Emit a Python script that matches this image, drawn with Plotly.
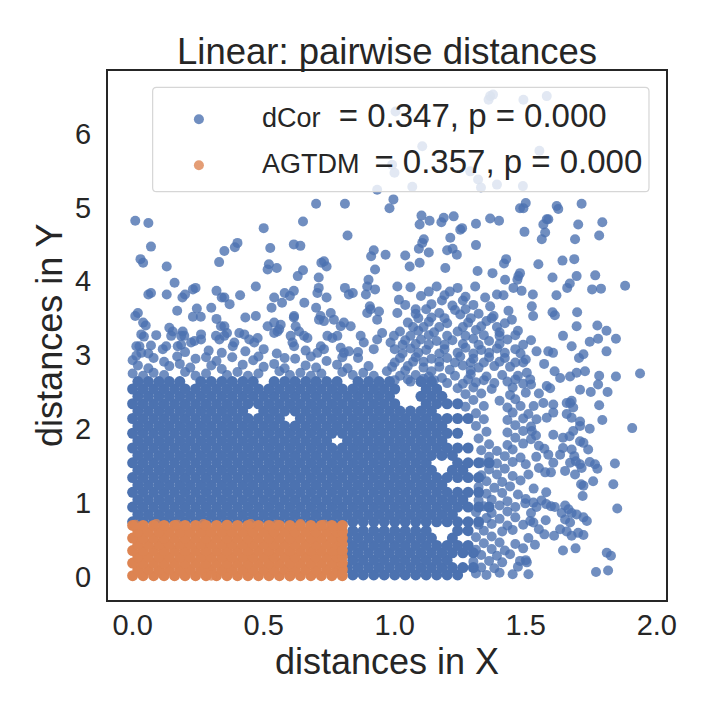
import plotly.graph_objects as go

# ---- data ----------------------------------------------------------------

# dense blue core: one y level per row, x positions along that row
blue_core_levels = [0.02, 0.12, 0.22, 0.32, 0.42, 0.52, 0.62,
                    0.74, 0.84, 0.94, 1.04, 1.14, 1.24, 1.34, 1.44, 1.54,
                    1.64, 1.74, 1.84, 1.94, 2.04, 2.14, 2.24, 2.34, 2.44,
                    2.54, 2.64]
blue_core_rows = [
    [0.84, 0.88, 0.92, 0.96, 1.00, 1.04, 1.08, 1.12, 1.16, 1.20, 1.24],
    [0.82, 0.86, 0.90, 0.94, 0.98, 1.02, 1.06, 1.10, 1.14, 1.18, 1.22, 1.26, 1.30],
    [0.84, 0.88, 0.92, 0.96, 1.00, 1.04, 1.08, 1.12, 1.16, 1.20],
    [0.82, 0.86, 0.90, 0.94, 0.98, 1.02, 1.06, 1.10, 1.14, 1.18, 1.22, 1.26, 1.30],
    [0.84, 0.88, 0.92, 0.96, 1.00, 1.04, 1.08, 1.12, 1.16, 1.20, 1.24, 1.28],
    [0.82, 0.86, 0.90, 0.94, 0.98, 1.02, 1.06, 1.10, 1.14, 1.22],
    [0.84, 0.88, 0.92, 0.96, 1.00, 1.04, 1.08, 1.12, 1.24, 1.28],
    [0.00, 0.04, 0.08, 0.12, 0.16, 0.20, 0.24, 0.28, 0.32, 0.36, 0.40, 0.44, 0.48, 0.52, 0.56, 0.60, 0.64,
     0.68, 0.72, 0.76, 0.80, 0.84, 0.88, 0.92, 0.96, 1.00, 1.04, 1.08, 1.12, 1.16, 1.20, 1.24, 1.28, 1.32],
    [0.02, 0.06, 0.10, 0.14, 0.18, 0.22, 0.26, 0.30, 0.34, 0.38, 0.42, 0.46, 0.50, 0.54, 0.58, 0.62, 0.66,
     0.70, 0.74, 0.78, 0.82, 0.86, 0.90, 0.94, 0.98, 1.02, 1.06, 1.10, 1.14, 1.18, 1.22],
    [0.00, 0.04, 0.08, 0.12, 0.16, 0.20, 0.24, 0.28, 0.32, 0.36, 0.40, 0.44, 0.48, 0.52, 0.56, 0.60, 0.64,
     0.68, 0.72, 0.76, 0.80, 0.84, 0.88, 0.92, 0.96, 1.00, 1.04, 1.08, 1.12, 1.16, 1.20, 1.24, 1.28, 1.32, 1.36],
    [0.02, 0.06, 0.10, 0.14, 0.18, 0.22, 0.26, 0.30, 0.34, 0.38, 0.42, 0.46, 0.50, 0.54, 0.58, 0.62, 0.66,
     0.70, 0.74, 0.78, 0.82, 0.86, 0.90, 0.94, 0.98, 1.02, 1.06, 1.10, 1.14, 1.18, 1.22, 1.26],
    [0.00, 0.04, 0.08, 0.12, 0.16, 0.20, 0.24, 0.28, 0.32, 0.36, 0.40, 0.44, 0.48, 0.52, 0.56, 0.60, 0.64,
     0.68, 0.72, 0.76, 0.80, 0.84, 0.88, 0.92, 0.96, 1.00, 1.04, 1.08, 1.12, 1.16, 1.20, 1.24, 1.28, 1.32],
    [0.02, 0.06, 0.10, 0.14, 0.18, 0.22, 0.26, 0.30, 0.34, 0.38, 0.42, 0.46, 0.50, 0.54, 0.58, 0.62, 0.66,
     0.70, 0.74, 0.78, 0.82, 0.86, 0.90, 0.94, 0.98, 1.02, 1.06, 1.10, 1.14, 1.18],
    [0.00, 0.04, 0.08, 0.12, 0.16, 0.20, 0.24, 0.28, 0.32, 0.36, 0.40, 0.44, 0.48, 0.52, 0.56, 0.60, 0.64,
     0.68, 0.72, 0.76, 0.80, 0.84, 0.88, 0.92, 0.96, 1.00, 1.04, 1.08, 1.12, 1.16, 1.20, 1.24, 1.28, 1.32],
    [0.02, 0.06, 0.10, 0.14, 0.18, 0.22, 0.26, 0.30, 0.34, 0.38, 0.42, 0.46, 0.50, 0.54, 0.58, 0.62, 0.66,
     0.70, 0.74, 0.78, 0.82, 0.86, 0.90, 0.94, 0.98, 1.02, 1.06, 1.10, 1.14, 1.22, 1.26],
    [0.00, 0.04, 0.08, 0.12, 0.16, 0.20, 0.24, 0.28, 0.32, 0.36, 0.40, 0.44, 0.48, 0.52, 0.56, 0.60, 0.64,
     0.68, 0.72, 0.76, 0.80, 0.84, 0.88, 0.92, 0.96, 1.00, 1.04, 1.08, 1.12, 1.24, 1.28, 1.32, 1.36],
    [0.02, 0.06, 0.10, 0.14, 0.18, 0.22, 0.26, 0.30, 0.34, 0.38, 0.42, 0.46, 0.50, 0.54, 0.58, 0.62, 0.66,
     0.70, 0.74, 0.78, 0.82, 0.86, 0.90, 0.94, 0.98, 1.02, 1.06, 1.10, 1.14, 1.18, 1.22],
    [0.00, 0.04, 0.08, 0.12, 0.16, 0.20, 0.24, 0.28, 0.32, 0.36, 0.40, 0.44, 0.48, 0.52, 0.56, 0.60, 0.64,
     0.68, 0.72, 0.76, 0.80, 0.84, 0.88, 0.92, 0.96, 1.00, 1.04, 1.08, 1.12, 1.16, 1.20, 1.24, 1.28],
    [0.02, 0.06, 0.10, 0.14, 0.18, 0.22, 0.26, 0.30, 0.34, 0.38, 0.42, 0.46, 0.50, 0.54, 0.58, 0.62, 0.66,
     0.70, 0.74, 0.82, 0.86, 0.90, 0.94, 0.98, 1.02, 1.06, 1.10, 1.14, 1.18],
    [0.00, 0.04, 0.08, 0.12, 0.16, 0.20, 0.24, 0.28, 0.32, 0.36, 0.40, 0.44, 0.48, 0.52, 0.56, 0.60, 0.64,
     0.68, 0.72, 0.76, 0.80, 0.84, 0.88, 0.92, 0.96, 1.00, 1.04, 1.08, 1.12, 1.16, 1.20, 1.24],
    [0.02, 0.06, 0.10, 0.14, 0.18, 0.22, 0.26, 0.30, 0.34, 0.38, 0.42, 0.46, 0.50, 0.54, 0.58, 0.62, 0.66,
     0.70, 0.74, 0.78, 0.82, 0.86, 0.90, 0.94, 0.98, 1.02, 1.06, 1.10, 1.14, 1.18],
    [0.00, 0.04, 0.08, 0.12, 0.16, 0.20, 0.24, 0.28, 0.32, 0.36, 0.40, 0.44, 0.48, 0.52, 0.56, 0.64,
     0.68, 0.72, 0.76, 0.80, 0.84, 0.88, 0.92, 0.96, 1.00, 1.04, 1.08, 1.12, 1.16, 1.20, 1.24, 1.28],
    [0.02, 0.06, 0.10, 0.14, 0.18, 0.22, 0.26, 0.30, 0.34, 0.38, 0.42, 0.50, 0.54, 0.58, 0.62, 0.66,
     0.70, 0.74, 0.78, 0.82, 0.86, 0.90, 0.94, 0.98, 1.02, 1.06, 1.10, 1.14],
    [0.00, 0.04, 0.08, 0.12, 0.16, 0.20, 0.24, 0.28, 0.32, 0.36, 0.40, 0.44, 0.48, 0.52, 0.56, 0.60, 0.64,
     0.68, 0.72, 0.76, 0.80, 0.84, 0.88, 0.92, 0.96, 1.00, 1.12, 1.16, 1.20, 1.24],
    [0.02, 0.06, 0.10, 0.14, 0.18, 0.22, 0.26, 0.30, 0.34, 0.38, 0.42, 0.46, 0.50, 0.54, 0.58, 0.62, 0.66,
     0.70, 0.74, 0.78, 0.82, 0.86, 0.90, 0.94, 0.98, 1.10, 1.14, 1.18],
    [0.00, 0.04, 0.08, 0.12, 0.16, 0.20, 0.24, 0.28, 0.32, 0.36, 0.40, 0.44, 0.48, 0.52, 0.56, 0.60, 0.64,
     0.68, 0.72, 0.76, 0.80, 0.84, 0.88, 0.92, 0.96, 1.00, 1.12, 1.16],
    [0.02, 0.06, 0.10, 0.14, 0.18, 0.26, 0.30, 0.34, 0.38, 0.42, 0.46, 0.54, 0.58, 0.62, 0.66,
     0.70, 0.74, 0.78, 0.86, 0.90, 0.94, 0.98, 1.10, 1.14],
]

# scattered blue points, (x, y), by region
blue_upper_left = [
    (0.01, 4.82), (0.06, 4.79), (0.07, 4.47), (0.03, 4.30), (0.04, 4.25), (0.13, 4.20), (0.16, 3.98),
    (0.06, 3.82), (0.07, 3.84), (0.13, 3.82), (0.17, 3.60), (0.01, 3.53), (0.02, 3.57), (0.04, 3.44),
    (0.05, 3.40), (0.09, 3.27), (0.07, 3.13), (0.19, 3.78), (0.20, 3.82), (0.23, 3.89), (0.24, 3.91),
    (0.245, 3.63), (0.23, 3.52), (0.26, 3.52), (0.30, 3.64), (0.32, 3.49), (0.32, 3.87), (0.34, 3.78),
    (0.35, 3.78), (0.37, 3.69), (0.33, 4.26), (0.35, 4.41), (0.39, 4.46), (0.40, 4.52), (0.41, 3.81),
    (0.43, 3.51), (0.47, 3.53), (0.47, 3.93), (0.50, 4.72), (0.525, 4.45), (0.52, 4.23), (0.515, 4.16),
    (0.55, 4.18), (0.54, 3.78), (0.53, 3.64), (0.58, 3.84), (0.60, 3.80), (0.615, 3.87), (0.57, 3.71),
    (0.615, 4.50), (0.64, 4.48), (0.65, 4.81), (0.70, 5.05), (0.81, 5.05), (0.82, 4.62), (0.65, 4.15),
    (0.63, 4.07), (0.71, 4.05), (0.72, 4.25), (0.73, 4.27), (0.74, 4.20), (0.71, 3.91), (0.705, 3.84),
    (0.74, 3.78), (0.655, 3.71), (0.615, 3.51), (0.70, 3.64), (0.81, 3.91), (0.825, 3.82), (0.84, 3.84),
    (0.91, 4.34), (0.92, 4.42), (0.965, 4.36), (0.925, 4.16), (0.90, 4.02), (0.895, 3.93), (0.925, 3.89),
    (0.89, 3.82), (0.905, 3.66), (0.94, 3.59), (0.98, 4.99), (0.995, 5.11),
]
blue_top = [
    (1.364, 6.51), (1.375, 6.53), (1.358, 6.46), (1.491, 6.46), (1.580, 6.51), (1.003, 6.30),
    (1.105, 5.83), (0.990, 5.58), (0.999, 5.47), (1.288, 5.49), (1.318, 5.38), (1.329, 5.27),
    (1.390, 5.31), (1.489, 5.29), (1.067, 5.28), (0.933, 5.24), (1.552, 5.77), (1.618, 5.02),
    (1.713, 5.05),
]
blue_upper_right = [
    (1.478, 4.99), (1.491, 4.99), (1.500, 5.06), (1.624, 4.98), (1.792, 4.80), (1.780, 4.62),
    (1.700, 4.77), (1.688, 4.57), (1.580, 4.84), (1.586, 4.84), (1.567, 4.77), (1.574, 4.66),
    (1.561, 4.57), (1.495, 4.67), (1.364, 4.85), (1.398, 4.82), (1.310, 4.78), (1.310, 4.49),
    (1.250, 4.70), (1.257, 4.72), (1.225, 4.88), (1.187, 4.86), (1.178, 4.80), (1.133, 4.82),
    (1.102, 4.89), (1.095, 4.77), (1.212, 4.59), (1.200, 4.42), (1.221, 4.44), (1.237, 4.36),
    (1.130, 4.39), (1.092, 4.44), (1.105, 4.52), (1.111, 4.57), (1.040, 4.35), (1.057, 4.20),
    (1.095, 4.25), (1.193, 4.18), (1.316, 4.14), (1.373, 4.11), (1.425, 4.30), (1.417, 4.24),
    (1.548, 4.23), (1.640, 4.28), (1.685, 4.30), (1.472, 4.07), (1.478, 4.11), (1.468, 4.02),
    (1.602, 4.05), (1.694, 4.07), (1.765, 4.08), (1.879, 3.94), (1.753, 3.89), (1.787, 3.90),
    (1.658, 3.91), (1.668, 3.97), (1.617, 3.81), (1.421, 4.02), (1.307, 3.93), (1.390, 3.82),
    (1.415, 3.81), (1.453, 3.91), (1.484, 3.87), (1.527, 3.82), (1.345, 3.78), (1.364, 3.66),
    (1.377, 3.53), (1.434, 3.60), (1.447, 3.48), (1.523, 3.66), (1.528, 3.53), (1.602, 3.58),
    (1.611, 3.54), (1.696, 3.58), (1.773, 3.40), (1.808, 3.33), (1.844, 3.22), (1.808, 3.05),
    (1.936, 2.75), (1.844, 2.71), (1.780, 2.72), (1.776, 2.60), (1.812, 2.50), (1.707, 2.53),
    (1.748, 2.50), (1.780, 2.32), (1.720, 3.01), (1.703, 2.96), (1.744, 3.18), (1.776, 3.22),
    (1.675, 3.12), (1.694, 3.39), (1.642, 3.26), (1.586, 3.05), (1.604, 3.03), (1.541, 3.05),
    (1.504, 2.76), (1.517, 2.67), (1.580, 2.58), (1.593, 2.55), (1.631, 2.69), (1.669, 2.71),
    (1.694, 2.76), (1.726, 2.78), (1.656, 2.35), (1.675, 2.38),
]
blue_lower_right = [
    (1.906, 2.01), (1.840, 1.53), (1.834, 1.25), (1.849, 0.92), (1.809, 0.32), (1.825, 0.28),
    (1.768, 0.06), (1.814, 0.08), (1.792, 2.12), (1.744, 2.00), (1.707, 1.83), (1.720, 1.81),
    (1.738, 1.72), (1.744, 1.55), (1.764, 1.52), (1.773, 1.46), (1.757, 1.29), (1.720, 1.23),
    (1.711, 1.25), (1.717, 1.09), (1.688, 1.38), (1.650, 1.43), (1.605, 1.54), (1.574, 1.41),
    (1.596, 1.41), (1.669, 1.54), (1.707, 1.52), (1.713, 1.47), (1.691, 1.56), (1.631, 1.65),
    (1.642, 1.74), (1.675, 1.72), (1.685, 1.63), (1.605, 1.92), (1.642, 1.88), (1.667, 1.90),
    (1.681, 1.97), (1.707, 2.04), (1.578, 1.14), (1.498, 0.99), (1.529, 1.00), (1.541, 0.94),
    (1.578, 0.98), (1.596, 0.95), (1.611, 0.94), (1.650, 0.96), (1.663, 0.91), (1.675, 0.86),
    (1.694, 0.84), (1.720, 0.80), (1.733, 0.75), (1.637, 0.86), (1.650, 0.77), (1.669, 0.73),
    (1.517, 0.75), (1.529, 0.73), (1.576, 0.76), (1.631, 0.64), (1.656, 0.61), (1.675, 0.55),
    (1.700, 0.59), (1.720, 0.56), (1.571, 0.57), (1.608, 0.55), (1.642, 0.35), (1.690, 0.38),
    (1.535, 0.43), (1.510, 0.03), (1.478, 0.21), (1.504, 0.19), (1.571, 1.73), (1.586, 1.65),
    (1.539, 1.91), (1.523, 1.97), (1.541, 2.13), (1.580, 2.15), (1.605, 2.22), (1.656, 2.20),
    (1.675, 2.15), (1.707, 2.10), (1.530, 2.31), (1.567, 2.35), (1.605, 2.33), (1.669, 2.35),
    (1.681, 2.29),
]
blue_fringe = [
    (1.31, 0.04), (1.35, 0.02), (1.40, 0.05), (1.45, 0.03), (1.33, 0.12), (1.38, 0.11), (1.47, 0.13),
    (1.30, 0.20), (1.36, 0.21), (1.41, 0.19), (1.50, 0.22), (1.33, 0.29), (1.39, 0.28), (1.44, 0.30),
    (1.31, 0.36), (1.37, 0.37), (1.42, 0.35), (1.49, 0.38), (1.34, 0.45), (1.40, 0.46), (1.46, 0.44),
    (1.31, 0.53), (1.37, 0.54), (1.51, 0.52), (1.34, 0.62), (1.41, 0.61), (1.45, 0.63), (1.55, 0.64),
    (1.32, 0.70), (1.37, 0.71), (1.43, 0.69), (1.49, 0.70), (1.35, 0.79), (1.40, 0.78), (1.46, 0.80),
    (1.31, 0.87), (1.37, 0.86), (1.43, 0.88), (1.52, 0.86), (1.34, 0.95), (1.40, 0.96), (1.46, 0.94),
    (1.32, 1.03), (1.37, 1.04), (1.43, 1.02), (1.50, 1.05), (1.56, 1.03), (1.35, 1.12), (1.41, 1.13),
    (1.47, 1.11), (1.32, 1.21), (1.38, 1.20), (1.44, 1.22), (1.53, 1.19), (1.35, 1.29), (1.41, 1.28),
    (1.48, 1.30), (1.33, 1.37), (1.39, 1.38), (1.45, 1.36), (1.51, 1.38), (1.36, 1.45), (1.42, 1.46),
    (1.55, 1.47), (1.33, 1.54), (1.39, 1.53), (1.45, 1.55), (1.50, 1.52), (1.36, 1.62), (1.42, 1.63),
    (1.48, 1.61), (1.54, 1.62), (1.33, 1.71), (1.39, 1.70), (1.45, 1.72), (1.36, 1.79), (1.43, 1.78),
    (1.49, 1.80), (1.55, 1.77), (1.32, 1.87), (1.46, 1.88), (1.52, 1.86), (1.35, 1.96), (1.43, 1.95),
    (1.49, 1.97), (1.31, 2.04), (1.46, 2.05), (1.52, 2.03), (1.34, 2.13), (1.43, 2.12), (1.49, 2.14),
    (1.31, 2.21), (1.45, 2.22), (1.51, 2.20), (1.27, 2.30), (1.34, 2.31), (1.43, 2.29), (1.48, 2.31),
    (1.30, 2.39), (1.40, 2.38), (1.46, 2.40), (1.27, 2.47), (1.33, 2.48), (1.44, 2.46), (1.50, 2.49),
    (1.24, 2.55), (1.30, 2.56), (1.37, 2.54), (1.45, 2.56),
]
blue_cluster = [
    (1.20, 2.62), (1.26, 2.61), (1.31, 2.63), (1.38, 2.62), (1.43, 2.64), (1.49, 2.61),
    (1.02, 2.72), (1.08, 2.73), (1.13, 2.71), (1.23, 2.72), (1.29, 2.74), (1.35, 2.71),
    (1.41, 2.73), (1.47, 2.72), (0.99, 2.84), (1.05, 2.85), (1.11, 2.83), (1.17, 2.84),
    (1.26, 2.86), (1.32, 2.83), (1.38, 2.85), (1.44, 2.84), (1.02, 2.96), (1.08, 2.97),
    (1.14, 2.95), (1.20, 2.96), (1.25, 2.98), (1.30, 2.95), (1.36, 2.97), (1.42, 2.96),
    (1.50, 2.94), (1.00, 3.08), (1.06, 3.09), (1.12, 3.07), (1.19, 3.08), (1.27, 3.10),
    (1.33, 3.07), (1.39, 3.09), (1.46, 3.08), (1.04, 3.20), (1.10, 3.21), (1.16, 3.19),
    (1.22, 3.20), (1.30, 3.22), (1.36, 3.19), (1.43, 3.21), (1.52, 3.20), (1.02, 3.32),
    (1.09, 3.33), (1.15, 3.31), (1.24, 3.32), (1.31, 3.34), (1.40, 3.31), (1.47, 3.33),
    (1.05, 3.44), (1.13, 3.45), (1.20, 3.43), (1.28, 3.44), (1.35, 3.46), (1.42, 3.43),
    (1.08, 3.56), (1.17, 3.57), (1.25, 3.55), (1.32, 3.56), (1.04, 3.68), (1.14, 3.69),
    (1.22, 3.67), (1.30, 3.68), (1.10, 3.80), (1.19, 3.81), (1.27, 3.79), (1.06, 3.92),
    (1.16, 3.93), (1.24, 3.91), (1.55, 2.48), (1.52, 2.60), (1.57, 2.88), (1.49, 2.90),
    (1.61, 2.78), (1.00, 2.66), (1.06, 2.64), (1.15, 2.66), (0.97, 2.78), (1.04, 2.79),
    (1.14, 2.78), (1.21, 2.80), (1.29, 2.79), (1.23, 2.90), (1.11, 2.91), (1.34, 2.90),
    (1.17, 3.02), (1.24, 3.03), (1.36, 3.03), (1.13, 3.14), (1.26, 3.15), (1.20, 3.26),
    (1.34, 3.27), (1.11, 3.38), (1.26, 3.38), (1.19, 3.50), (1.37, 3.50), (1.12, 3.62),
    (1.27, 3.62), (1.05, 2.67), (1.11, 2.68), (1.18, 2.69), (1.28, 2.67), (1.34, 2.66),
    (1.46, 2.67), (1.00, 2.90), (1.07, 2.91), (1.17, 2.91), (1.29, 2.90), (1.40, 2.91),
    (1.46, 2.90), (1.03, 3.02), (1.09, 3.03), (1.30, 3.02), (1.42, 3.03), (1.48, 3.02),
    (1.03, 3.14), (1.08, 3.15), (1.19, 3.14), (1.32, 3.14), (1.40, 3.15), (1.49, 3.14),
    (1.06, 3.26), (1.13, 3.27), (1.27, 3.26), (1.40, 3.26), (1.46, 3.27), (1.07, 3.38),
    (1.17, 3.38), (1.33, 3.39), (1.39, 3.38), (1.09, 3.50), (1.14, 3.51), (1.29, 3.50),
    (1.23, 3.61), (1.08, 3.62), (1.18, 3.74), (1.26, 3.74), (1.13, 3.86), (1.21, 3.86),
]
blue_band = [
    (0.033, 3.28), (0.043, 3.25), (0.014, 3.12), (0.026, 3.12), (0.033, 3.03), (0.014, 2.99),
    (0.115, 3.08), (0.128, 3.12), (0.140, 3.37), (0.153, 3.32), (0.147, 3.26), (0.191, 3.32),
    (0.185, 3.26), (0.197, 3.26), (0.223, 3.17), (0.236, 3.19), (0.261, 3.28), (0.261, 3.21),
    (0.172, 3.12), (0.185, 3.14), (0.318, 3.26), (0.331, 3.21), (0.350, 3.26), (0.360, 3.30),
    (0.337, 3.39), (0.350, 3.39), (0.382, 3.12), (0.388, 3.17), (0.407, 3.30), (0.426, 3.28),
    (0.445, 3.21), (0.464, 3.17), (0.477, 3.23), (0.515, 3.39), (0.540, 3.44), (0.559, 3.35),
    (0.565, 3.41), (0.540, 3.30), (0.553, 3.32), (0.616, 3.53), (0.622, 3.39), (0.635, 3.32),
    (0.654, 3.26), (0.667, 3.23), (0.603, 3.26), (0.610, 3.17), (0.616, 3.12), (0.711, 3.48),
    (0.717, 3.53), (0.730, 3.46), (0.756, 3.57), (0.768, 3.48), (0.794, 3.39), (0.806, 3.44),
    (0.832, 3.39), (0.743, 3.26), (0.762, 3.23), (0.781, 3.26), (0.718, 3.12), (0.705, 3.03),
    (0.730, 3.08), (0.794, 3.10), (0.806, 3.03), (0.825, 3.05), (0.870, 3.26), (0.882, 3.17),
    (0.895, 3.57), (0.908, 3.62), (0.933, 3.48), (0.952, 3.30), (0.933, 3.21), (0.984, 3.17),
    (0.997, 3.26), (1.010, 3.57), (1.016, 3.75), (1.010, 3.93), (0.06, 3.02), (0.20, 3.04),
    (0.29, 3.06), (0.34, 3.03), (0.43, 3.05), (0.50, 3.08), (0.55, 3.02), (0.66, 3.06),
    (0.86, 3.04), (0.92, 3.08), (0.48, 2.98), (0.58, 2.96), (0.68, 2.98), (0.80, 2.97),
    (0.17, 2.98), (0.28, 2.97), (0.00, 2.93), (0.08, 2.96), (0.12, 2.91), (0.24, 2.95),
    (0.32, 2.92), (0.38, 2.97), (0.46, 2.93), (0.62, 2.95), (0.74, 2.92), (0.86, 2.96),
    (0.00, 2.75), (0.04, 2.72), (0.08, 2.76), (0.12, 2.73), (0.20, 2.77), (0.24, 2.72),
    (0.28, 2.75), (0.36, 2.73), (0.40, 2.77), (0.44, 2.72), (0.48, 2.75), (0.56, 2.78),
    (0.60, 2.73), (0.64, 2.76), (0.68, 2.72), (0.72, 2.75), (0.80, 2.77), (0.84, 2.73),
    (0.88, 2.76), (0.92, 2.72), (0.02, 2.86), (0.06, 2.82), (0.14, 2.85), (0.18, 2.88),
    (0.22, 2.83), (0.30, 2.86), (0.34, 2.81), (0.42, 2.87), (0.50, 2.84), (0.54, 2.88),
    (0.58, 2.82), (0.66, 2.86), (0.70, 2.83), (0.78, 2.87), (0.82, 2.82), (0.90, 2.85),
]

# orange block: one y level per row, x positions along that row
orange_levels = [0.01, 0.095, 0.18, 0.265, 0.35, 0.435, 0.52, 0.605, 0.69]
orange_rows = [
    [0.00, 0.04, 0.08, 0.12, 0.16, 0.20, 0.24, 0.28, 0.32, 0.36, 0.40, 0.44, 0.48, 0.52, 0.56, 0.60, 0.64, 0.68, 0.72, 0.76, 0.80],
    [0.02, 0.06, 0.10, 0.14, 0.18, 0.22, 0.26, 0.30, 0.34, 0.38, 0.42, 0.46, 0.50, 0.54, 0.58, 0.62, 0.66, 0.70, 0.74, 0.78, 0.80],
    [0.00, 0.04, 0.08, 0.12, 0.16, 0.20, 0.24, 0.28, 0.32, 0.36, 0.40, 0.44, 0.48, 0.52, 0.56, 0.60, 0.64, 0.68, 0.72, 0.76, 0.80],
    [0.02, 0.06, 0.10, 0.14, 0.18, 0.22, 0.26, 0.30, 0.34, 0.38, 0.42, 0.46, 0.50, 0.54, 0.58, 0.62, 0.66, 0.70, 0.74, 0.78, 0.80],
    [0.00, 0.04, 0.08, 0.12, 0.16, 0.20, 0.24, 0.28, 0.32, 0.36, 0.40, 0.44, 0.48, 0.52, 0.56, 0.60, 0.64, 0.68, 0.72, 0.76, 0.80],
    [0.02, 0.06, 0.10, 0.14, 0.18, 0.22, 0.26, 0.30, 0.34, 0.38, 0.42, 0.46, 0.50, 0.54, 0.58, 0.62, 0.66, 0.70, 0.74, 0.78, 0.80],
    [0.00, 0.04, 0.08, 0.12, 0.16, 0.20, 0.24, 0.28, 0.32, 0.36, 0.40, 0.44, 0.48, 0.52, 0.56, 0.60, 0.64, 0.68, 0.72, 0.76, 0.80],
    [0.02, 0.06, 0.10, 0.14, 0.18, 0.22, 0.26, 0.30, 0.34, 0.38, 0.42, 0.46, 0.50, 0.54, 0.58, 0.62, 0.66, 0.70, 0.74, 0.78, 0.80],
    [0.00, 0.04, 0.08, 0.12, 0.16, 0.20, 0.24, 0.28, 0.32, 0.36, 0.40, 0.44, 0.48, 0.52, 0.56, 0.60, 0.64, 0.68, 0.72, 0.76, 0.80],
]
orange_rim = [
    (0.01, 0.70), (0.09, 0.71), (0.17, 0.70), (0.27, 0.71), (0.36, 0.70), (0.45, 0.71),
    (0.55, 0.70), (0.64, 0.71), (0.73, 0.70), (0.80, 0.69), (0.80, 0.35), (0.80, 0.05),
    (0.30, 0.01), (0.60, 0.00),
]

x_ticks = [0.0, 0.5, 1.0, 1.5, 2.0]
x_tick_text = ["0.0", "0.5", "1.0", "1.5", "2.0"]
y_ticks = [0, 1, 2, 3, 4, 5, 6]

labels = {
    "dCor": "<span style='font-size:27px'>dCor</span>"
            "<span style='font-size:33px'>\u00a0\u00a0= 0.347, p = 0.000</span>",
    "AGTDM": "<span style='font-size:27px'>AGTDM\u00a0\u00a0</span>"
             "<span style='font-size:33px'>= 0.357, p = 0.000</span>",
}

BLUE = "#4C72B0"
ORANGE = "#DD8452"
INK = "#262626"
FONT = "Liberation Sans, Arial, sans-serif"


def flatten_rows(levels, rows):
    xs, ys = [], []
    for yv, row in zip(levels, rows):
        xs += row
        ys += [yv] * len(row)
    return xs, ys


def unzip(*groups):
    xs, ys = [], []
    for g in groups:
        for a, b in g:
            xs.append(a)
            ys.append(b)
    return xs, ys


core_bx, core_by = flatten_rows(blue_core_levels, blue_core_rows)
sp_bx, sp_by = unzip(blue_upper_left, blue_top, blue_upper_right, blue_lower_right,
                     blue_fringe, blue_cluster, blue_band)
core_ox, core_oy = flatten_rows(orange_levels, orange_rows)
rim_ox, rim_oy = unzip(orange_rim)

fig = go.Figure()

fig.add_trace(go.Scatter(x=core_bx, y=core_by, mode="markers", showlegend=False,
                         legendgroup="b", hoverinfo="skip",
                         marker=dict(color=BLUE, size=11, line=dict(width=0))))
fig.add_trace(go.Scatter(x=sp_bx, y=sp_by, mode="markers", name=labels["dCor"], legendgroup="b",
                         marker=dict(color=BLUE, size=10, opacity=0.8, line=dict(width=0))))
fig.add_trace(go.Scatter(x=core_ox, y=core_oy, mode="markers", showlegend=False,
                         legendgroup="o", hoverinfo="skip",
                         marker=dict(color=ORANGE, size=11, line=dict(width=0))))
fig.add_trace(go.Scatter(x=rim_ox, y=rim_oy, mode="markers", name=labels["AGTDM"], legendgroup="o",
                         marker=dict(color=ORANGE, size=10, opacity=0.8, line=dict(width=0))))

# legend frame (rounded, semi transparent like matplotlib's)
x0, x1, y0, y1 = 0.080, 0.9695, 0.7718, 0.9692
rx, ry = 0.007, 0.0075
box = (f"M {x0+rx},{y1} L {x1-rx},{y1} Q {x1},{y1} {x1},{y1-ry} "
       f"L {x1},{y0+ry} Q {x1},{y0} {x1-rx},{y0} L {x0+rx},{y0} "
       f"Q {x0},{y0} {x0},{y0+ry} L {x0},{y1-ry} Q {x0},{y1} {x0+rx},{y1} Z")
fig.add_shape(type="path", path=box, xref="paper", yref="paper", layer="above",
              fillcolor="rgba(255,255,255,0.8)", line=dict(color="#d6d6d6", width=1.2))

# y axis title as a rotated annotation so it can sit where the reference puts it
fig.add_annotation(text="distances in Y", xref="paper", yref="paper", x=-0.105, y=0.50,
                   xanchor="center", yanchor="middle", textangle=-90, showarrow=False,
                   font=dict(size=36, color=INK))

# page body adds an 8px offset, so the figure is 712 wide and tall
fig.update_layout(
    width=712, height=712, autosize=False,
    margin=dict(l=100, r=54, t=63, b=120),
    paper_bgcolor="white", plot_bgcolor="white",
    font=dict(family=FONT, color=INK),
    title=dict(text="Linear: pairwise distances", x=0.5, xref="paper", xanchor="center",
               y=0.9396, yref="container", yanchor="middle", font=dict(size=36.5, color=INK)),
    legend=dict(x=0.05, y=0.9456, xanchor="left", yanchor="top",
                bgcolor="rgba(0,0,0,0)", borderwidth=0, itemwidth=116,
                tracegroupgap=17, font=dict(size=20, color=INK), traceorder="grouped"),
)

fig.update_xaxes(range=[-0.094, 2.035], showline=True, mirror=True, linecolor=INK, linewidth=2,
                 showgrid=False, zeroline=False, ticks="", tickvals=x_ticks, ticktext=x_tick_text,
                 tickfont=dict(size=29), ticklabelstandoff=-2,
                 title=dict(text="distances in X", font=dict(size=36), standoff=7))
fig.update_yaxes(range=[-0.32, 6.85], showline=True, mirror=True, linecolor=INK, linewidth=2,
                 showgrid=False, zeroline=False, ticks="", tickvals=y_ticks,
                 tickfont=dict(size=29), ticklabelstandoff=9)

fig.write_html("out.html")
